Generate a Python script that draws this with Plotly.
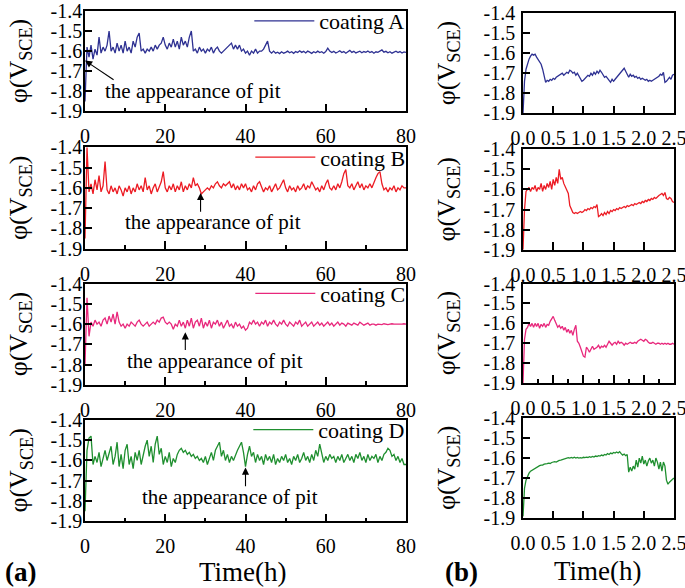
import numpy as np
import plotly.graph_objects as go
from plotly.subplots import make_subplots

# ---- data: potential (V vs SCE) ----
coatings = ["coating A", "coating B", "coating C", "coating D"]
colors = ["#2e3192", "#ec1c24", "#e8287c", "#1f8f2f"]

# long-term immersion, 0-80 h, one reading every 0.5 h
long_A = [
    -1.85, -1.58, -1.63, -1.57, -1.64, -1.59, -1.62, -1.53, -1.61, -1.58,
    -1.60, -1.57, -1.50, -1.60, -1.58, -1.61, -1.56, -1.60, -1.57, -1.61,
    -1.55, -1.60, -1.58, -1.61, -1.55, -1.58, -1.53, -1.51, -1.60, -1.59,
    -1.61, -1.59, -1.60, -1.58, -1.60, -1.57, -1.59, -1.57, -1.56, -1.53,
    -1.57, -1.59, -1.56, -1.58, -1.54, -1.58, -1.55, -1.59, -1.53, -1.57,
    -1.55, -1.58, -1.53, -1.50, -1.60, -1.59, -1.61, -1.58, -1.60, -1.59,
    -1.61, -1.59, -1.60, -1.58, -1.61, -1.59, -1.58, -1.60, -1.61, -1.60,
    -1.59, -1.58, -1.57, -1.56, -1.59, -1.57, -1.59, -1.57, -1.60, -1.59,
    -1.61, -1.60, -1.62, -1.60, -1.61, -1.59, -1.61, -1.60, -1.60, -1.59,
    -1.57, -1.55, -1.60, -1.61, -1.60, -1.61, -1.605, -1.612, -1.603, -1.610,
    -1.606, -1.600, -1.608, -1.603, -1.611, -1.602, -1.607, -1.598, -1.606, -1.601,
    -1.609, -1.600, -1.605, -1.611, -1.603, -1.608, -1.600, -1.607, -1.603, -1.610,
    -1.602, -1.585, -1.600, -1.607, -1.601, -1.609, -1.604, -1.598, -1.607, -1.602,
    -1.610, -1.603, -1.596, -1.606, -1.601, -1.609, -1.604, -1.600, -1.608, -1.602,
    -1.606, -1.599, -1.607, -1.602, -1.610, -1.603, -1.606, -1.598, -1.594, -1.605,
    -1.601, -1.608, -1.603, -1.610, -1.604, -1.600, -1.607, -1.602, -1.609, -1.604,
    -1.606,
]
long_B = [
    -1.85, -1.40, -1.62, -1.58, -1.63, -1.56, -1.61, -1.54, -1.62, -1.59,
    -1.47, -1.61, -1.63, -1.59, -1.62, -1.60, -1.63, -1.59, -1.61, -1.64,
    -1.60, -1.62, -1.59, -1.63, -1.60, -1.62, -1.58, -1.61, -1.59, -1.62,
    -1.55, -1.61, -1.59, -1.63, -1.60, -1.58, -1.62, -1.59, -1.57, -1.52,
    -1.60, -1.62, -1.59, -1.61, -1.58, -1.62, -1.59, -1.61, -1.57, -1.62,
    -1.59, -1.61, -1.58, -1.60, -1.55, -1.59, -1.58, -1.60, -1.63, -1.62,
    -1.61, -1.60, -1.61, -1.59, -1.60, -1.58, -1.57, -1.59, -1.60, -1.58,
    -1.59, -1.58, -1.57, -1.60, -1.58, -1.61, -1.59, -1.61, -1.58, -1.60,
    -1.58, -1.61, -1.60, -1.62, -1.59, -1.61, -1.58, -1.57, -1.60, -1.62,
    -1.60, -1.61, -1.59, -1.62, -1.60, -1.58, -1.61, -1.60, -1.58, -1.56,
    -1.60, -1.62, -1.59, -1.61, -1.60, -1.62, -1.59, -1.61, -1.60, -1.58,
    -1.61, -1.59, -1.60, -1.57, -1.59, -1.61, -1.60, -1.62, -1.59, -1.61,
    -1.58, -1.56, -1.60, -1.61, -1.59, -1.61, -1.58, -1.60, -1.57, -1.53,
    -1.51, -1.59, -1.60, -1.58, -1.61, -1.59, -1.57, -1.60, -1.58, -1.61,
    -1.59, -1.60, -1.58, -1.60, -1.57, -1.55, -1.53, -1.52, -1.58, -1.61,
    -1.60, -1.62, -1.60, -1.61, -1.59, -1.62, -1.60, -1.61, -1.59, -1.60,
    -1.60,
]
long_C = [
    -1.80, -1.47, -1.66, -1.59, -1.61, -1.58, -1.60, -1.59, -1.61, -1.58,
    -1.57, -1.60, -1.56, -1.59, -1.55, -1.60, -1.54, -1.59, -1.61, -1.60,
    -1.62, -1.60, -1.61, -1.59, -1.60, -1.61, -1.59, -1.58, -1.60, -1.61,
    -1.60, -1.59, -1.61, -1.60, -1.59, -1.60, -1.58, -1.59, -1.57, -1.565,
    -1.59, -1.60, -1.59, -1.60, -1.625, -1.60, -1.61, -1.58, -1.61, -1.59,
    -1.62, -1.58, -1.61, -1.57, -1.62, -1.59, -1.58, -1.61, -1.57, -1.62,
    -1.59, -1.61, -1.58, -1.62, -1.59, -1.60, -1.58, -1.61, -1.59, -1.62,
    -1.60, -1.58, -1.61, -1.60, -1.62, -1.59, -1.61, -1.60, -1.62, -1.61,
    -1.63, -1.62, -1.59, -1.60, -1.58, -1.60, -1.59, -1.61, -1.59, -1.60,
    -1.58, -1.61, -1.59, -1.60, -1.58, -1.60, -1.61, -1.59, -1.60, -1.58,
    -1.60, -1.61, -1.59, -1.60, -1.61, -1.59, -1.60, -1.58, -1.61, -1.60,
    -1.59, -1.61, -1.60, -1.59, -1.61, -1.60, -1.59, -1.605, -1.595, -1.61,
    -1.60, -1.59, -1.605, -1.595, -1.61, -1.60, -1.59, -1.605, -1.595, -1.60,
    -1.61, -1.595, -1.60, -1.605, -1.595, -1.60, -1.605, -1.59, -1.60, -1.605,
    -1.60, -1.595, -1.605, -1.60, -1.60, -1.605, -1.60, -1.60, -1.602, -1.598,
    -1.60, -1.602, -1.60, -1.598, -1.60, -1.60, -1.60, -1.602, -1.60, -1.598,
    -1.60,
]
long_D = [
    -1.85, -1.55, -1.49, -1.48, -1.62, -1.58, -1.61, -1.56, -1.63, -1.59,
    -1.55, -1.60, -1.57, -1.53, -1.62, -1.58, -1.51, -1.63, -1.57, -1.64,
    -1.55, -1.52, -1.62, -1.58, -1.64, -1.56, -1.60, -1.55, -1.62, -1.57,
    -1.53, -1.50, -1.58, -1.53, -1.61, -1.52, -1.48, -1.57, -1.54, -1.62,
    -1.58, -1.61, -1.56, -1.63, -1.59, -1.61, -1.57, -1.55, -1.54, -1.56,
    -1.55, -1.57, -1.56, -1.58, -1.57, -1.59, -1.58, -1.60, -1.59, -1.61,
    -1.58, -1.62, -1.59, -1.56, -1.60, -1.55, -1.53, -1.51, -1.58, -1.55,
    -1.60, -1.57, -1.61, -1.58, -1.60, -1.57, -1.55, -1.53, -1.51, -1.56,
    -1.63, -1.57, -1.53, -1.58, -1.56, -1.61, -1.57, -1.60, -1.58, -1.62,
    -1.57, -1.60, -1.58, -1.61, -1.57, -1.62, -1.59, -1.61, -1.58, -1.60,
    -1.57, -1.61, -1.59, -1.62, -1.58, -1.60, -1.57, -1.61, -1.59, -1.56,
    -1.60, -1.58, -1.61, -1.57, -1.60, -1.55, -1.58, -1.52, -1.57, -1.61,
    -1.58, -1.60, -1.57, -1.59, -1.58, -1.61, -1.58, -1.60, -1.57, -1.61,
    -1.59, -1.57, -1.60, -1.58, -1.61, -1.57, -1.59, -1.56, -1.60, -1.58,
    -1.61, -1.57, -1.60, -1.58, -1.59, -1.57, -1.61, -1.58, -1.60, -1.57,
    -1.56, -1.54, -1.55, -1.58, -1.57, -1.60, -1.58, -1.61, -1.59, -1.62,
    -1.62,
]

# first hours, 0-2.5 h, one reading every 0.025 h
short_A = [
    -1.90, -1.74, -1.68, -1.65, -1.63, -1.615, -1.605, -1.61, -1.605, -1.62,
    -1.63, -1.64, -1.655, -1.68, -1.71, -1.745, -1.735, -1.74, -1.73, -1.735,
    -1.725, -1.73, -1.72, -1.715, -1.71, -1.705, -1.70, -1.71, -1.70, -1.695,
    -1.70, -1.685, -1.69, -1.70, -1.695, -1.71, -1.70, -1.715, -1.73, -1.74,
    -1.735, -1.725, -1.72, -1.71, -1.715, -1.70, -1.71, -1.695, -1.705, -1.69,
    -1.70, -1.685, -1.695, -1.71, -1.72, -1.715, -1.725, -1.735, -1.745, -1.73,
    -1.74, -1.73, -1.72, -1.71, -1.70, -1.69, -1.68, -1.675, -1.69, -1.71,
    -1.72, -1.705, -1.715, -1.71, -1.72, -1.715, -1.725, -1.72, -1.73, -1.725,
    -1.73, -1.735, -1.73, -1.74, -1.735, -1.74, -1.735, -1.73, -1.725, -1.72,
    -1.715, -1.705, -1.71, -1.695, -1.745, -1.74, -1.73, -1.72, -1.73, -1.71,
    -1.705,
]
short_B = [
    -1.90, -1.70, -1.61, -1.60, -1.59, -1.61, -1.59, -1.60, -1.58, -1.61,
    -1.59, -1.60, -1.57, -1.61, -1.58, -1.60, -1.57, -1.59, -1.56, -1.60,
    -1.55, -1.58, -1.54, -1.57, -1.50, -1.55, -1.54, -1.57, -1.59, -1.60,
    -1.62, -1.68, -1.70, -1.715, -1.72, -1.715, -1.72, -1.715, -1.71, -1.715,
    -1.71, -1.70, -1.705, -1.695, -1.70, -1.69, -1.695, -1.685, -1.69, -1.675,
    -1.735, -1.73, -1.72, -1.73, -1.715, -1.725, -1.71, -1.72, -1.705, -1.71,
    -1.70, -1.705, -1.695, -1.70, -1.69, -1.695, -1.69, -1.685, -1.69, -1.68,
    -1.685, -1.68, -1.675, -1.68, -1.67, -1.675, -1.67, -1.665, -1.67, -1.66,
    -1.665, -1.655, -1.66, -1.65, -1.655, -1.645, -1.65, -1.64, -1.645, -1.635,
    -1.63, -1.625, -1.62, -1.63, -1.615, -1.645, -1.65, -1.64, -1.645, -1.66,
    -1.665,
]
short_C = [
    -1.90, -1.68, -1.63, -1.62, -1.60, -1.615, -1.60, -1.62, -1.60, -1.615,
    -1.60, -1.625, -1.605, -1.615, -1.60, -1.62, -1.605, -1.61, -1.59, -1.58,
    -1.565, -1.585, -1.60, -1.62, -1.61, -1.625, -1.615, -1.635, -1.62, -1.645,
    -1.63, -1.65, -1.635, -1.66, -1.63, -1.61, -1.69, -1.70, -1.72, -1.74,
    -1.765, -1.77, -1.72, -1.73, -1.745, -1.73, -1.715, -1.73, -1.725, -1.72,
    -1.71, -1.725, -1.715, -1.72, -1.71, -1.72, -1.705, -1.69, -1.70, -1.71,
    -1.70, -1.695, -1.705, -1.69, -1.70, -1.695, -1.70, -1.71, -1.70, -1.705,
    -1.70, -1.695, -1.70, -1.70, -1.695, -1.70, -1.69, -1.685, -1.68, -1.685,
    -1.69, -1.68, -1.685, -1.695, -1.70, -1.70, -1.695, -1.70, -1.705, -1.70,
    -1.70, -1.705, -1.70, -1.705, -1.70, -1.705, -1.70, -1.705, -1.705, -1.70,
    -1.705,
]
short_D = [
    -1.89, -1.75, -1.71, -1.69, -1.675, -1.665, -1.66, -1.655, -1.65, -1.645,
    -1.64, -1.638, -1.635, -1.635, -1.63, -1.63, -1.628, -1.625, -1.627, -1.622,
    -1.62, -1.618, -1.62, -1.615, -1.612, -1.61, -1.608, -1.605, -1.603, -1.60,
    -1.598, -1.60, -1.597, -1.60, -1.596, -1.60, -1.597, -1.60, -1.598, -1.60,
    -1.596, -1.598, -1.595, -1.597, -1.593, -1.596, -1.592, -1.595, -1.59, -1.592,
    -1.588, -1.59, -1.585, -1.588, -1.582, -1.585, -1.578, -1.582, -1.575, -1.578,
    -1.572, -1.575, -1.57, -1.575, -1.568, -1.578, -1.585, -1.58, -1.588, -1.582,
    -1.67, -1.645, -1.665, -1.64, -1.655, -1.61, -1.645, -1.60, -1.625, -1.59,
    -1.63, -1.61, -1.64, -1.615, -1.60, -1.625, -1.61, -1.64, -1.60, -1.62,
    -1.655, -1.62, -1.665, -1.62, -1.64, -1.71, -1.73, -1.72, -1.71, -1.705,
    -1.70,
]

long_series = [long_A, long_B, long_C, long_D]
short_series = [short_A, short_B, short_C, short_D]

y_ticks = [-1.9, -1.8, -1.7, -1.6, -1.5, -1.4]
y_ticktext = ["-1.9", "-1.8", "-1.7", "-1.6", "-1.5", "-1.4"]
long_ticks = [0, 20, 40, 60, 80]
short_ticks = [0.0, 0.5, 1.0, 1.5, 2.0, 2.5]
short_ticktext = ["0.0", "0.5", "1.0", "1.5", "2.0", "2.5"]

# where each "the appearance of pit" arrow points (time h, potential V)
pit_points = [(0.0, -1.647), (28.8, -1.625), (25.0, -1.64), (40.0, -1.635)]
pit_tails = [(7.5, -1.747), (28.8, -1.725), (25.0, -1.735), (40.0, -1.735)]
pit_text_pos = [(4.5, -1.797), (9.5, -1.767), (10.0, -1.78), (13.7, -1.782)]

W, H = 685, 588
FONT = "Liberation Serif, Times New Roman, serif"

fig = make_subplots(rows=4, cols=2)

# pixel boxes of each panel (top, bottom)
left_rows = [(8, 109), (145, 247), (282, 384), (419, 521)]
right_rows = [(10, 111), (147, 248), (282, 382), (417, 518)]
left_x = [85 / W, 406 / W]
right_x = [523 / W, 674 / W]

axis_common = dict(showline=True, linecolor="black", linewidth=1.6, mirror=True,
                   ticks="inside", tickcolor="black", tickwidth=1.6,
                   showgrid=False, zeroline=False, automargin=False,
                   ticklabeloverflow="allow",
                   tickfont=dict(family=FONT, size=20, color="black"))

legend_names = ["legend", "legend2", "legend3", "legend4"]

for i in range(4):
    r = i + 1
    t = np.linspace(0, 80, len(long_series[i]))
    fig.add_trace(go.Scatter(x=t, y=long_series[i], mode="lines", name=coatings[i],
                             line=dict(color=colors[i], width=1.3),
                             legend=legend_names[i]), row=r, col=1)
    ts = np.linspace(0, 2.5, len(short_series[i]))
    fig.add_trace(go.Scatter(x=ts, y=short_series[i], mode="lines", showlegend=False,
                             line=dict(color=colors[i], width=1.3)), row=r, col=2)

    top, bot = left_rows[i]
    fig.update_yaxes(domain=[1 - bot / H, 1 - top / H], range=[-1.9, -1.4],
                     tickvals=y_ticks, ticktext=y_ticktext, ticklen=7,
                     ticklabelstandoff=-3, row=r, col=1, **axis_common)
    fig.update_xaxes(domain=left_x, range=[0, 80], tickvals=long_ticks, ticklen=8,
                     minor=dict(dtick=10, ticks="inside", ticklen=4, tickcolor="black", tickwidth=1.6),
                     ticklabelstandoff=6, row=r, col=1, **axis_common)

    lg = dict(x=0.599, xanchor="right", y=1 - (top - 11) / H,
              yanchor="top", bgcolor="rgba(0,0,0,0)", borderwidth=0,
              font=dict(family=FONT, size=22, color="black"), itemwidth=60)
    fig.update_layout({legend_names[i]: lg})

    top, bot = right_rows[i]
    fig.update_yaxes(domain=[1 - bot / H, 1 - top / H], range=[-1.9, -1.4],
                     tickvals=y_ticks, ticktext=y_ticktext, ticklen=7,
                     ticklabelstandoff=2, row=r, col=2, **axis_common)
    xr = dict(domain=right_x, range=[0, 2.5], tickvals=short_ticks, ticktext=short_ticktext,
              ticklen=8, ticklabelstandoff=6)
    if i == 2:
        xr["minor"] = dict(dtick=0.25, ticks="inside", ticklen=4, tickcolor="black", tickwidth=1.6)
    fig.update_xaxes(row=r, col=2, **xr, **axis_common)

    # "the appearance of pit" arrow + text
    xa = "x" if i == 0 else "x%d" % (2 * i + 1)
    ya = "y" if i == 0 else "y%d" % (2 * i + 1)
    hx, hy = pit_points[i]
    tx, ty = pit_tails[i]
    fig.add_annotation(x=hx, y=hy, ax=tx, ay=ty, xref=xa, yref=ya, axref=xa, ayref=ya,
                       text="", showarrow=True, arrowhead=2, arrowsize=1.3,
                       arrowwidth=1.1, arrowcolor="black")
    px_, py_ = pit_text_pos[i]
    fig.add_annotation(x=px_, y=py_, xref=xa, yref=ya, text="the appearance of pit",
                       showarrow=False, xanchor="left", yanchor="middle",
                       font=dict(family=FONT, size=21, color="black"))


def paper_text(x, y, text, size, angle=0):
    fig.add_annotation(x=x / W, y=1 - y / H, xref="paper", yref="paper", text=text,
                       showarrow=False, xanchor="center", yanchor="middle",
                       textangle=angle, font=dict(family=FONT, size=size, color="black"))


# y titles
for i in range(4):
    top, bot = left_rows[i]
    paper_text(20, (top + bot) / 2, "φ(V<sub>SCE</sub>)", 26, -90)
    top, bot = right_rows[i]
    paper_text(448, (top + bot) / 2, "φ(V<sub>SCE</sub>)", 26, -90)

# bottom labels
paper_text(243, 572, "Time(h)", 27)
paper_text(598, 571, "Time(h)", 27)
paper_text(20, 572, "<b>(a)</b>", 27)
paper_text(461, 572, "<b>(b)</b>", 27)

fig.update_layout(width=W, height=H, margin=dict(l=0, r=0, t=0, b=0),
                  plot_bgcolor="white", paper_bgcolor="white",
                  font=dict(family=FONT, color="black"))

# the page body has a default 8px margin; drop it so the figure fills the window
fig.write_html("out.html", config={"displayModeBar": False},
               post_script="document.body.style.margin='0';")
